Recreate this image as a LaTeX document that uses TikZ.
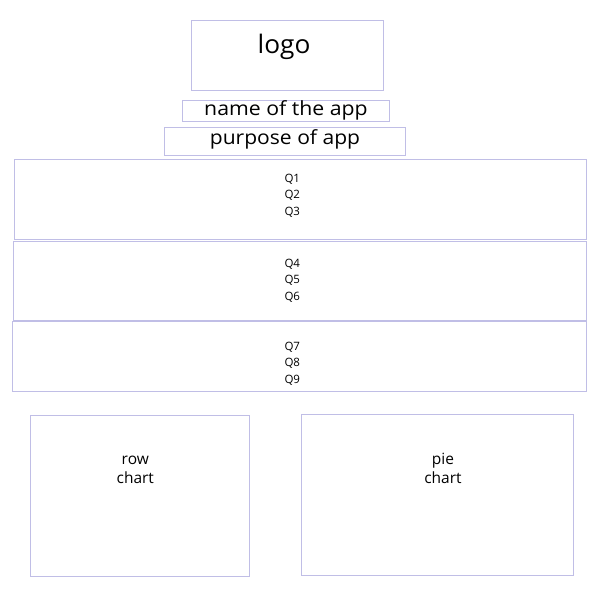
\documentclass[tikz,border=0pt]{standalone}
\usepackage{graphicx}
\usepackage{fontspec}
\setmainfont{Open Sans}
\definecolor{boxline}{RGB}{192,190,230}
\begin{document}
\begin{tikzpicture}[x=1pt,y=-1pt,
  box/.style={draw=boxline,line width=0.8pt,rectangle,inner sep=0pt},
  txt/.style={anchor=base,inner sep=0pt,text=black},
  qtxt/.style={txt,font=\fontsize{11.5}{13}\selectfont},
  ctxt/.style={txt,font=\fontsize{15.5}{18}\selectfont}]
\useasboundingbox (0,0) rectangle (600,600);
% logo
\node[box,minimum width=192,minimum height=70] (logo) at (287,55) {};
\node[txt,font=\fontsize{25.5}{28}\selectfont] (logot) at (284,53.5) {\scalebox{1.03}[1]{logo}};
% name
\node[box,minimum width=207,minimum height=21] (name) at (285.5,110.5) {};
\node[txt,font=\fontsize{19.5}{21}\selectfont] (namet) at (286,115) {\scalebox{1.09}[1]{name of the app}};
% purpose
\node[box,minimum width=241,minimum height=28] (purp) at (284.5,141) {};
\node[txt,font=\fontsize{19.5}{21}\selectfont] (purpt) at (285,144) {\scalebox{1.08}[1]{purpose of app}};
% question boxes
\node[box,minimum width=572,minimum height=80] (q1) at (300,199) {};
\node[qtxt] (q1a) at (292.3,182.2) {Q1};
\node[qtxt] (q1b) at (292.3,198.8) {Q2};
\node[qtxt] (q1c) at (292.3,215.4) {Q3};
\node[box,minimum width=573,minimum height=79] (q2) at (299.5,280.5) {};
\node[qtxt] (q2a) at (292.3,267.2) {Q4};
\node[qtxt] (q2b) at (292.3,283.8) {Q5};
\node[qtxt] (q2c) at (292.3,300.2) {Q6};
\node[box,minimum width=574,minimum height=70] (q3) at (299,356) {};
\node[qtxt] (q3a) at (292.3,350.2) {Q7};
\node[qtxt] (q3b) at (292.3,366.6) {Q8};
\node[qtxt] (q3c) at (292.3,383) {Q9};
% charts
\node[box,minimum width=219,minimum height=161] (row) at (139.5,495.5) {};
\node[ctxt] (rowa) at (135.3,464) {row};
\node[ctxt] (rowb) at (135.3,483.5) {chart};
\node[box,minimum width=272,minimum height=161] (pie) at (437,494.5) {};
\node[ctxt] (piea) at (443,464) {pie};
\node[ctxt] (pieb) at (443,483.5) {chart};
\end{tikzpicture}
\end{document}
